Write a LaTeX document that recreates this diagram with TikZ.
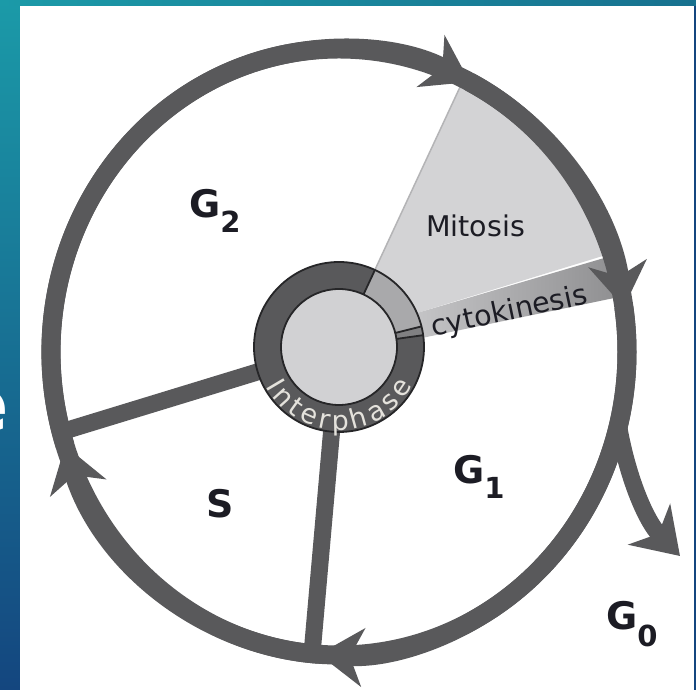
\documentclass[tikz,border=0pt]{standalone}
\usepackage{fontspec}
\setmainfont{DejaVu Sans}
\usetikzlibrary{arrows.meta,decorations.text}
\definecolor{ringc}{HTML}{59595B}
\definecolor{wedgec}{HTML}{D3D3D5}
\definecolor{diskc}{HTML}{D1D1D3}
\definecolor{mitoc}{HTML}{A9A9AB}
\definecolor{cytoc}{HTML}{808082}
\definecolor{outc}{HTML}{262628}
\definecolor{bandL}{HTML}{C4C4C6}
\definecolor{bandR}{HTML}{8C8C8E}
\definecolor{edgec}{HTML}{B4B4B6}
\definecolor{bgA}{HTML}{1B9AA8}
\definecolor{bgB}{HTML}{14467F}
\definecolor{bgC}{HTML}{17718F}
\definecolor{txt}{HTML}{1C1C24}
\definecolor{intc}{HTML}{E4E2DC}
\begin{document}
\begin{tikzpicture}[x=1pt,y=1pt,
  bigring/.style={draw=ringc, line width=19pt},
  branch/.style={draw=ringc, line width=17pt},
  spoke/.style={draw=ringc, line width=17pt},
  ringarrow/.style={-{Stealth[length=44pt,width=58pt,inset=13pt]}},
  outline/.style={draw=outc, line width=1.8pt},
  lbl/.style={font=\fontsize{38}{40}\selectfont\bfseries, text=txt, inner sep=0pt, anchor=base west},
  phase/.style={font=\fontsize{28.5}{30}\selectfont, text=txt, inner sep=0pt}]
\useasboundingbox (0,0) rectangle (696,690);
% background frame
\shade[top color=bgA, bottom color=bgB] (0,0) rectangle (20,690);
\shade[left color=bgA, right color=bgC] (0,684) rectangle (696,690);
\fill[white] (20,0) rectangle (694,684);
\fill[bgB] (694,0) rectangle (696,684);
\begin{scope}
  \clip (0,0) rectangle (20,690);
  \node[inner sep=0pt, anchor=base east, text=white, font=\fontsize{76}{76}\selectfont\bfseries] (frag) at (9,258) {e};
\end{scope}
% coordinates
\coordinate (C) at (339,338);
\coordinate (I) at (339,343);
\path (C) ++(198:288 and 303) coordinate (pL);
\path (C) ++(63:288 and 303) coordinate (pT);
\path (C) ++(8.5:288 and 303) coordinate (pR);
\path (C) ++(266:288 and 303) coordinate (pB);
\path (C) ++(-14:288 and 303) coordinate (pG);
\coordinate (sA) at (61,258);
\coordinate (sB) at (312,36);
\coordinate (g0tip) at (680,134);
% mitosis wedge and cytokinesis band
\begin{scope}
  \clip (C) ellipse [x radius=288, y radius=303];
  \fill[wedgec] (I) -- (508,706) -- (720,706) -- (720,470) -- (417,377) -- cycle;
  \begin{scope}
    \clip (417,377) -- (720,466) -- (720,414) -- (417,351) -- cycle;
    \shade[left color=bandL, right color=bandR] (417,340) rectangle (630,480);
  \end{scope}
  \draw[draw=edgec, line width=1.5pt] (I) -- (508,706);
\end{scope}
% spokes
\draw[spoke] (I) -- (sA);
\draw[spoke] (I) -- (sB);
% big ring with arrows
\draw[bigring] (C) ellipse [x radius=288, y radius=303];
\draw[branch, ringarrow] (pG) .. controls (627,215) and (645,170) .. (g0tip);
\draw[bigring, ringarrow] (pL) arc[start angle=198, end angle=63, x radius=288, y radius=303];
\draw[bigring, ringarrow] (pT) arc[start angle=63, end angle=8.5, x radius=288, y radius=303];
\draw[bigring, ringarrow] (pR) arc[start angle=8.5, end angle=-94, x radius=288, y radius=303];
\draw[bigring, ringarrow] (pB) arc[start angle=266, end angle=198, x radius=288, y radius=303];
% inner ring
\fill[ringc] (I) circle (85);
\fill[mitoc] (I) ++(14:58) -- ++(14:27) arc[start angle=14, end angle=65, radius=85] -- ++(245:27) arc[start angle=65, end angle=14, radius=58] -- cycle;
\fill[cytoc] (I) ++(8:58) -- ++(8:27) arc[start angle=8, end angle=14, radius=85] -- ++(194:27) arc[start angle=14, end angle=8, radius=58] -- cycle;
\fill[diskc] (I) circle (58);
\draw[outline] (I) circle (85) (I) circle (58);
\draw[outline] (I) ++(65:58) -- ++(65:27) (I) ++(14:58) -- ++(14:27) (I) ++(8:58) -- ++(8:27);
\path[decorate, decoration={text along path, text={|\fontsize{27}{27}\selectfont|Interphase}, text color=intc, text align=fit to path}] (I) ++(208:83) arc[start angle=208, end angle=332, radius=83];
% labels
\node[lbl] (g2) at (189,472) {G\raisebox{-15pt}{\fontsize{29}{30}\selectfont 2}};
\node[lbl] (s) at (206,172) {S};
\node[lbl] (g1) at (453,206) {G\raisebox{-15pt}{\fontsize{29}{30}\selectfont 1}};
\node[lbl] (g0) at (606,60) {G\raisebox{-17pt}{\fontsize{29}{30}\selectfont 0}};
\node[phase, anchor=base west] (mit) at (426,453) {Mitosis};
\node[phase, anchor=base, rotate=12] (cyt) at (511,370) {cytokinesis};
\end{tikzpicture}
\end{document}
